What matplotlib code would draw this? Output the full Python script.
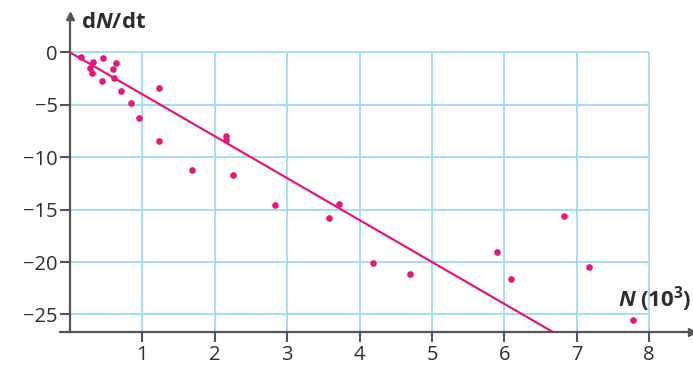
import numpy as np
import matplotlib
matplotlib.use("Agg")
import matplotlib.pyplot as plt

plt.rcParams['font.family'] = ['Open Sans', 'DejaVu Sans']
plt.rcParams['mathtext.fontset'] = 'custom'
plt.rcParams['mathtext.rm'] = 'Open Sans'
plt.rcParams['mathtext.bf'] = 'Open Sans:bold'
plt.rcParams['mathtext.bfit'] = 'Open Sans:italic:bold'
plt.rcParams['mathtext.it'] = 'Open Sans:italic'

# data (N in thousands, dN/dt)
n_vals = [0.15, 0.28, 0.30, 0.32, 0.45, 0.44, 0.59, 0.63, 0.61, 0.71, 0.84,
          0.95, 1.23, 1.23, 1.69, 2.15, 2.15, 2.25, 2.83, 3.58, 3.71, 4.18,
          4.69, 5.90, 6.09, 6.82, 7.17, 7.78]
dndt_vals = [-0.4, -1.5, -2.0, -0.9, -0.5, -2.7, -1.6, -1.0, -2.4, -3.7, -4.8,
             -6.3, -3.4, -8.5, -11.2, -8.0, -8.4, -11.7, -14.6, -15.8, -14.5, -20.1,
             -21.1, -19.0, -21.6, -15.6, -20.5, -25.5]

# fitted line dN/dt = -4 N
line_n = [0, 7]
line_dndt = [0, -28]

x_ticks = [1, 2, 3, 4, 5, 6, 7, 8]
y_ticks = [0, -5, -10, -15, -20, -25]
y_labels = ['0', '\u22125', '\u221210', '\u221215', '\u221220', '\u221225']

pink = '#de1a7c'
grid_col = '#a6dcf0'
axis_col = '#555555'
text_col = '#2e2e2e'

W, H = 693, 367
fig = plt.figure(figsize=(W / 100, H / 100), dpi=100)

# axes placed in pixels: x=0 at px 70, 72.4 px/unit; y=0 at px 52.4, 10.48 px/unit
x0, xs = 70, 72.4
y0, ys = 52.4, 10.48
top_px, bot_px = 16, 332
ax = fig.add_axes([x0 / W, (H - bot_px) / H, (W - 1 - x0) / W, (bot_px - top_px) / H])
xmax = (W - 1 - x0) / xs
ymin = -(bot_px - y0) / ys
ymax = (y0 - top_px) / ys
ax.set_xlim(0, xmax)
ax.set_ylim(ymin, ymax)

# grid only inside 0..8, ymin..0
ax.vlines(x_ticks, ymin, 0, color=grid_col, lw=1.4, zorder=1)
ax.hlines(y_ticks, 0, 8, color=grid_col, lw=1.4, zorder=1)

ax.plot(line_n, line_dndt, color=pink, lw=1.6, zorder=3, solid_capstyle='butt')
ax.plot(n_vals, dndt_vals, 'o', color=pink, ms=4.8, mec='none', zorder=4)

for s in ['top', 'right']:
    ax.spines[s].set_visible(False)
for s in ['left', 'bottom']:
    ax.spines[s].set_color(axis_col)
    ax.spines[s].set_linewidth(1.6)
    ax.spines[s].set_zorder(5)
ax.spines['bottom'].set_bounds(-0.14, xmax)

# arrow heads
ax.plot(1, 0, marker='>', color=axis_col, ms=6, transform=ax.transAxes, clip_on=False, zorder=6)
ax.plot(0, 1, marker='^', color=axis_col, ms=6, transform=ax.transAxes, clip_on=False, zorder=6)

ax.set_xticks(x_ticks)
ax.set_xticklabels([str(t) for t in x_ticks])
ax.set_yticks(y_ticks)
ax.set_yticklabels(y_labels)
ax.tick_params(direction='out', length=7, width=1.5, color=axis_col,
               labelcolor=text_col, labelsize=14.5, pad=2)

ax.text(0.15, ymax - 0.6, r'$\mathbf{d}\mathbfit{N}\mathbf{/dt}$', fontsize=16,
        color=text_col, va='center', ha='left', clip_on=False)
ax.text(xmax - 0.01, ymin + 3.1, r'$\mathbfit{N}\;\mathbf{(10^3)}$', fontsize=16,
        color=text_col, va='center', ha='right', clip_on=False)

fig.savefig('out.png', dpi=100)
